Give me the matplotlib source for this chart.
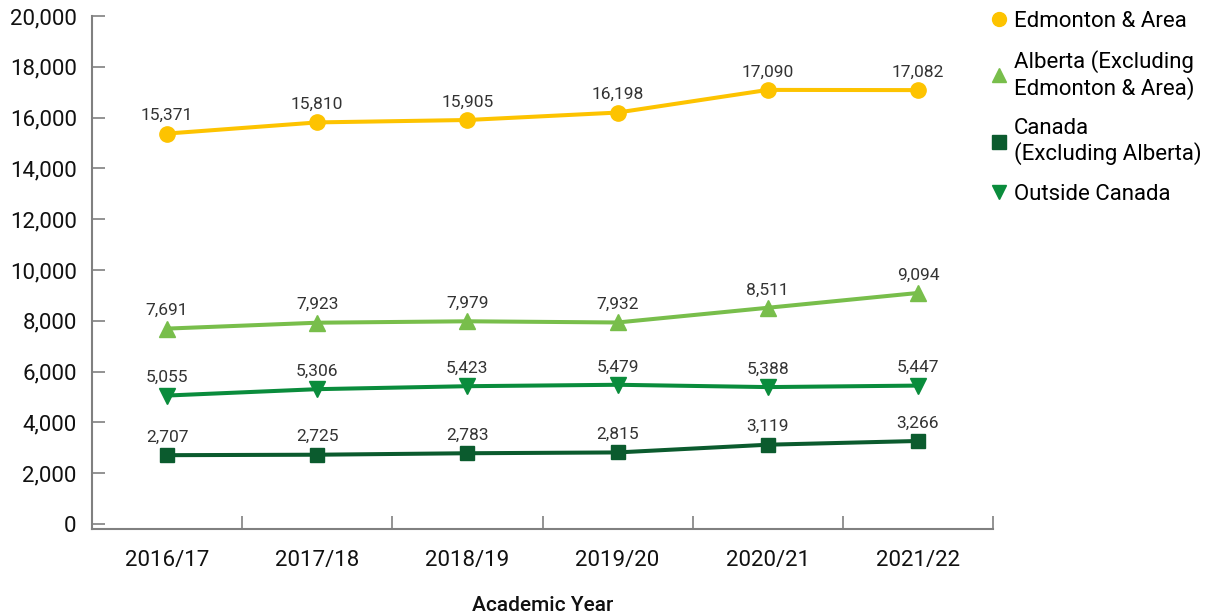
import matplotlib.pyplot as plt
from matplotlib.ticker import FuncFormatter, FixedLocator

plt.rcParams['font.family'] = ['Roboto', 'DejaVu Sans']

years = ['2016/17', '2017/18', '2018/19', '2019/20', '2020/21', '2021/22']
edmonton = [15371, 15810, 15905, 16198, 17090, 17082]
alberta = [7691, 7923, 7979, 7932, 8511, 9094]
canada = [2707, 2725, 2783, 2815, 3119, 3266]
outside = [5055, 5306, 5423, 5479, 5388, 5447]

series = [
    ('Edmonton & Area', edmonton, '#FDC300', 'o', 11),
    ('Alberta (Excluding\nEdmonton & Area)', alberta, '#78BE4B', '^', 11),
    ('Canada\n(Excluding Alberta)', canada, '#0B5B2E', 's', 10),
    ('Outside Canada', outside, '#0A8C3C', 'v', 11),
]

fig = plt.figure(figsize=(12.05, 6.15), dpi=100)
ax = fig.add_axes([92 / 1205, 1 - 529 / 615, (993 - 92) / 1205, (529 - 16) / 615])

x = list(range(len(years)))
handles = []
for label, vals, color, marker, ms in series:
    line, = ax.plot(x, vals, color=color, lw=2.9, marker=marker, ms=ms,
                    label=label, solid_capstyle='butt')
    handles.append(line)
    for xi, v in zip(x, vals):
        ax.annotate(f'{v:,}', (xi, v), xytext=(0, 7.5), textcoords='offset points',
                    ha='center', va='bottom', fontsize=12.5, color='#333333')

ax.set_xlim(-0.5, len(years) - 0.5)
ax.set_ylim(-200, 20000)
ax.set_yticks(range(0, 20001, 2000))
ax.yaxis.set_major_formatter(FuncFormatter(lambda v, p: f'{int(v):,}'))
ax.tick_params(axis='y', direction='in', length=9.5, width=1.2, color='#808080',
               labelsize=16, pad=11, labelcolor='#111111')

ax.set_xticks(x)
ax.set_xticklabels(years)
ax.xaxis.set_minor_locator(FixedLocator([i + 0.5 for i in range(len(years))]))
ax.tick_params(axis='x', which='major', length=0, labelsize=16, pad=15, labelcolor='#111111')
ax.tick_params(axis='x', which='minor', direction='in', length=9.5, width=1.2, color='#808080')
ax.set_xlabel('Academic Year', fontsize=15, fontweight='medium', labelpad=18, color='#111111')

for side in ['top', 'right']:
    ax.spines[side].set_visible(False)
for side in ['left', 'bottom']:
    ax.spines[side].set_color('#808080')
    ax.spines[side].set_linewidth(1.5)

leg_handles = [plt.Line2D([], [], color=h.get_color(), marker=h.get_marker(), ls='none', ms=10)
               for h in handles]
fig.legend(leg_handles, [s[0] for s in series], loc='upper left',
           bbox_to_anchor=(977 / 1205, 1 - 2 / 615), frameon=False, fontsize=16,
           handletextpad=0.05, labelspacing=0.82, handlelength=1.2, borderaxespad=0)

fig.savefig('out.png', dpi=100)
